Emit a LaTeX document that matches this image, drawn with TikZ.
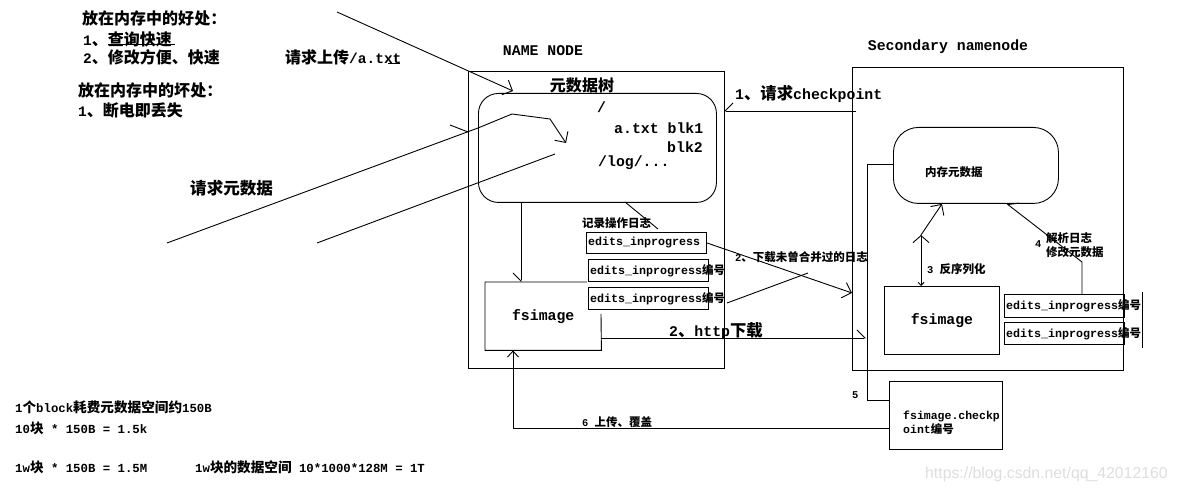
\documentclass[tikz,border=0pt]{standalone}
\usepackage{fontspec}
\setmainfont{Liberation Mono}[Scale=0.8333]
\newfontfamily\cjk{Noto Sans CJK SC}[Scale=0.92]
\newfontfamily\wmfont{Liberation Sans}
\usetikzlibrary{arrows.meta,calc}
\newcommand\zh[1]{{\cjk #1}}
\tikzset{
  ln/.style={line width=0.9pt},
  box/.style={draw, line width=0.9pt, inner sep=0pt, anchor=north west},
  plain/.style={inner sep=0pt, anchor=north west},
  arr/.style={ln, -{Straight Barb[length=8pt,width=16pt]}},
  arrsm/.style={ln, -{Straight Barb[length=6pt,width=11pt]}},
  harp/.style={ln, -{Straight Barb[length=8pt,width=16pt,harpoon]}},
  harps/.style={ln, -{Straight Barb[length=8pt,width=16pt,harpoon,swap]}},
  txt/.style={inner sep=0pt, anchor=west},
  fA/.style={font=\fontsize{17.4}{20}\selectfont\bfseries},
  fB/.style={font=\fontsize{17.8}{20}\selectfont\bfseries},
  fC/.style={font=\fontsize{14}{14}\selectfont\bfseries},
  fD/.style={font=\fontsize{12.5}{14}\selectfont\bfseries},
  fE/.style={font=\fontsize{14.8}{16}\selectfont\bfseries},
  fF/.style={font=\fontsize{13.8}{14}\selectfont\bfseries},
}
\begin{document}
\begin{tikzpicture}[x=1pt,y=-1pt]
\fill[white] (0,0) rectangle (1178,494);
\useasboundingbox (0,0) rectangle (1178,494);

% ---------- top-left notes ----------
\node[txt,fA] (g1) at (82,18) {\zh{放在内存中的好处：}};
\node[txt,fA] (g2) at (83,39) {1\zh{、查询快速}};
\node[txt,fA] (g3) at (83,57) {2\zh{、修改方便、快速}};
\node[txt,fA] (up) at (285,57) {\zh{请求上传}/a.txt};
\node[txt,fA] (b1) at (78,90) {\zh{放在内存中的坏处：}};
\node[txt,fA] (b2) at (78,110) {1\zh{、断电即丢失}};
\node[txt,font=\fontsize{18}{20}\selectfont\bfseries] (req) at (190,188) {\zh{请求元数据}};
\draw[ln] (108,44) -- (175,44);
\draw[ln] (388,63) -- (400,63);

% ---------- NAME NODE ----------
\node[fB, inner sep=0pt] (nnl) at (543,51) {NAME NODE};
\node[box, minimum width=256pt, minimum height=297pt] (nn) at (468,71) {};
\node[fA, inner sep=0pt] (treel) at (582,85) {\zh{元数据树}};
\node[box, rounded corners=20pt, minimum width=238pt, minimum height=109pt] (tree) at (478,93) {};
\node[txt,fB] (t1) at (597,107) {/};
\node[txt,fB] (t2) at (614,128) {a.txt blk1};
\node[inner sep=0pt, anchor=east, fB] (t3) at (703,147) {blk2};
\node[txt,fB] (t4) at (598,163) {/log/...};

\node[txt,fD] (rec) at (582,223) {\zh{记录操作日志}};
\node[box, minimum width=120pt, minimum height=21pt] (e1) at (586,232) {};
\node[box, minimum width=120pt, minimum height=22pt] (e2) at (588,259) {};
\node[box, minimum width=120pt, minimum height=22pt] (e3) at (588,287) {};
\node[txt,fC] (e1t) at ($(e1.west)+(2,0)$) {edits\_inprogress};
\node[txt,fC] (e2t) at ($(e2.west)+(2,0)$) {edits\_inprogress\zh{\fontsize{12.5}{14}\selectfont 编号}};
\node[txt,fC] (e3t) at ($(e3.west)+(2,0)$) {edits\_inprogress\zh{\fontsize{12.5}{14}\selectfont 编号}};

\node[plain, fB, minimum width=116pt, minimum height=68pt] (nfs) at (485,282) {fsimage};
\draw[ln] (587,282) -- (nfs.north west) -- (nfs.south west) -- (nfs.south east) -- (601,314);

% ---------- Secondary namenode ----------
\node[fB, inner sep=0pt] (snl) at (948,47) {Secondary namenode};
\node[box, minimum width=271pt, minimum height=303pt] (sn) at (852,67) {};
\node[box, rounded corners=25pt, minimum width=165pt, minimum height=76pt] (mem) at (893,127) {};
\node[txt,fD] (meml) at (925,172) {\zh{内存元数据}};
\node[box, fB, minimum width=115pt, minimum height=68pt] (sfs) at (884,286) {fsimage};
\node[box, minimum width=120pt, minimum height=23pt] (se1) at (1004,294) {};
\node[box, minimum width=120pt, minimum height=22pt] (se2) at (1004,322) {};
\node[txt,fC] (se1t) at ($(se1.west)+(2,0)$) {edits\_inprogress\zh{\fontsize{12.5}{14}\selectfont 编号}};
\node[txt,fC] (se2t) at ($(se2.west)+(2,0)$) {edits\_inprogress\zh{\fontsize{12.5}{14}\selectfont 编号}};
\node[box, minimum width=113pt, minimum height=68pt] (cp) at (889,381) {};
\node[txt,fF,align=left] (cpt) at (903,423) {fsimage.checkp\\oint\zh{\fontsize{12.5}{14}\selectfont 编号}};
\draw[ln] (1142,292) -- (1142,348);

% ---------- labels ----------
\node[txt,fB] (l1) at (735,94) {1\zh{、请求}checkpoint};
\node[txt,fD] (l2) at (735,257) {2\zh{、下载未曾合并过的日志}};
\node[txt,fB] (l2b) at (669,331) {2\zh{、}http\zh{下载}};
\node[txt,fD] (l3) at (927,269) {3 \zh{反序列化}};
\node[txt,fD] (l4) at (1035,244) {4};
\node[txt,fD,align=left] (l4b) at (1046,245) {\zh{解析日志}\\\zh{修改元数据}};
\node[txt,fD] (l5) at (852,395) {5};
\node[txt,fD] (l6) at (582,422) {6 \zh{上传、覆盖}};

% ---------- bottom-left notes ----------
\node[txt,fE] (n1) at (15,407) {1\zh{个}block\zh{耗费元数据空间约}150B};
\node[txt,fE] (n2) at (15,428) {10\zh{块} * 150B = 1.5k};
\node[txt,fE] (n3) at (15,467) {1w\zh{块} * 150B = 1.5M};
\node[txt,fE] (n4) at (195,467) {1w\zh{块的数据空间} 10*1000*128M = 1T};

\node[txt, font=\wmfont\fontsize{15.8}{16}\selectfont, text=black!13] (wm) at (925,474) {https://blog.csdn.net/qq\_42012160};

% ---------- coordinates ----------
\coordinate (p1) at (337,12);
\coordinate (p1t) at (513,91);
\coordinate (p2) at (167,243);
\coordinate (p2t) at (566,143);
\coordinate (p3) at (317,243);
\coordinate (p3t) at (555,154);
\coordinate (c1) at (856,111);
\coordinate (c1t) at (724,111);
\coordinate (x521) at (521,0);
\coordinate (a2) at (852,293);
\coordinate (h) at (866,338);
\coordinate (k1) at (867,164);
\coordinate (k2) at (867,400);
\coordinate (k3) at (513,428);
\coordinate (k4) at (921,235);
\coordinate (k5) at (942,0);
\coordinate (k6) at (1082,262);
\coordinate (k7) at (1007,0);

% ---------- connectors ----------
\draw[arr] (p1) -- (p1t);
\draw[arr] (p2) -- (478,128) -- (512,114) -- (550,119) -- (p2t);
\draw[ln] (450,125) -- (468,132);
\draw[ln] (p3) -- (p3t);
\draw[harps] (c1) -- (c1t);
\draw[harps] (tree.south -| x521) -- (nfs.north -| x521);
\draw[ln] (625,202) -- (658,229);
\draw[arr] (e1.east) -- (a2);
\draw[ln] (727,303) -- (808,273);
\draw[harp] (nfs.east |- h) -- (h);
\draw[ln] (mem.west |- k1) -- (k1) -- (k2) -- (cp.west |- k2);
\draw[arrsm] (cp.west |- k3) -- (k3) -- (nfs.south -| k3);
\draw[ln, {Straight Barb[length=3pt,width=6pt]}-{Straight Barb[length=7pt,width=16pt]}] (sfs.north -| k4) -- (k4);
\draw[arr] (k4) -- (mem.south -| k5);
\draw[harps] (se1.north -| k6) -- (k6) -- (mem.south -| k7);
\end{tikzpicture}
\end{document}
